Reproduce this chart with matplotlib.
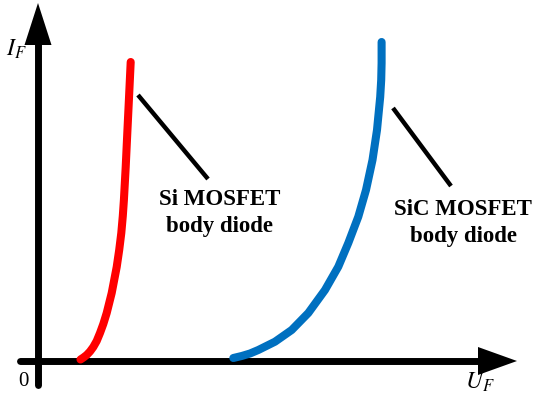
import matplotlib
matplotlib.use("Agg")
import matplotlib.pyplot as plt

plt.rcParams['mathtext.fontset'] = 'stix'

# Schematic forward characteristics (U_F, I_F in arbitrary units, origin at axes crossing)
si_u = [42.5, 45.5, 48.7, 52.0, 55.3, 58.7, 62.0, 65.3, 68.7, 73.7, 78.7, 81.2, 83.3, 84.8,
        85.9, 87.7, 89.3, 90.9, 92.7]
si_i = [1.5, 3.5, 6, 9.5, 14, 20, 28, 37, 48, 68, 94, 111, 128, 145, 161, 194, 228, 261, 299]
sic_u = [195.3, 203.7, 212.0, 220.3, 237.0, 253.7, 270.3, 287.0, 300.3, 310.3, 320.3, 328.0,
         334.5, 339.0, 342.2, 343.2, 343.6, 343.6]
sic_i = [3, 5, 7.5, 11, 19.3, 31, 48, 71, 94.3, 118, 144.3, 171, 201, 231, 264, 281, 298, 319]

labels = ["Si MOSFET\nbody diode", "SiC MOSFET\nbody diode"]
label_pos = [(182, 148), (425, 138)]
leader_si = ([100, 170], [266, 182])
leader_sic = ([355, 413], [253, 175])

fig = plt.figure(figsize=(5.5, 3.97), dpi=100)
ax = fig.add_axes([0, 0, 1, 1])
ax.set_xlim(-38, 512)
ax.set_ylim(-36, 361)
ax.axis('off')

lw_axis = 5.0
# axes lines
ax.plot([0, 0], [-24, 318], color='black', lw=lw_axis, solid_capstyle='round')
ax.plot([-18, 442], [0, 0], color='black', lw=lw_axis, solid_capstyle='round')
# arrow heads
ax.fill([-13.5, 13.5, 0], [316, 316, 358], color='black', lw=0)
ax.fill([440, 440, 479], [14, -14, 0], color='black', lw=0)

# curves
ax.plot(si_u, si_i, color='#FF0000', lw=5.8, solid_capstyle='round', solid_joinstyle='round')
ax.plot(sic_u, sic_i, color='#0070C0', lw=5.8, solid_capstyle='round', solid_joinstyle='round')

# leader lines
ax.plot(*leader_si, color='black', lw=3.2, solid_capstyle='butt')
ax.plot(*leader_sic, color='black', lw=3.2, solid_capstyle='butt')

for (x, y), t in zip(label_pos, labels):
    ax.text(x, y, t, ha='center', va='center', fontsize=16.5, fontweight='bold',
            family='Liberation Serif', linespacing=1.4)

ax.text(-32, 312, r'$I_F$', fontsize=17, ha='left', va='center')
ax.text(-15, -21, '0', fontsize=15, ha='center', va='center', family='Liberation Serif')
ax.text(427, -21, r'$U_F$', fontsize=17, ha='left', va='center')

fig.savefig('out.png', dpi=100)
